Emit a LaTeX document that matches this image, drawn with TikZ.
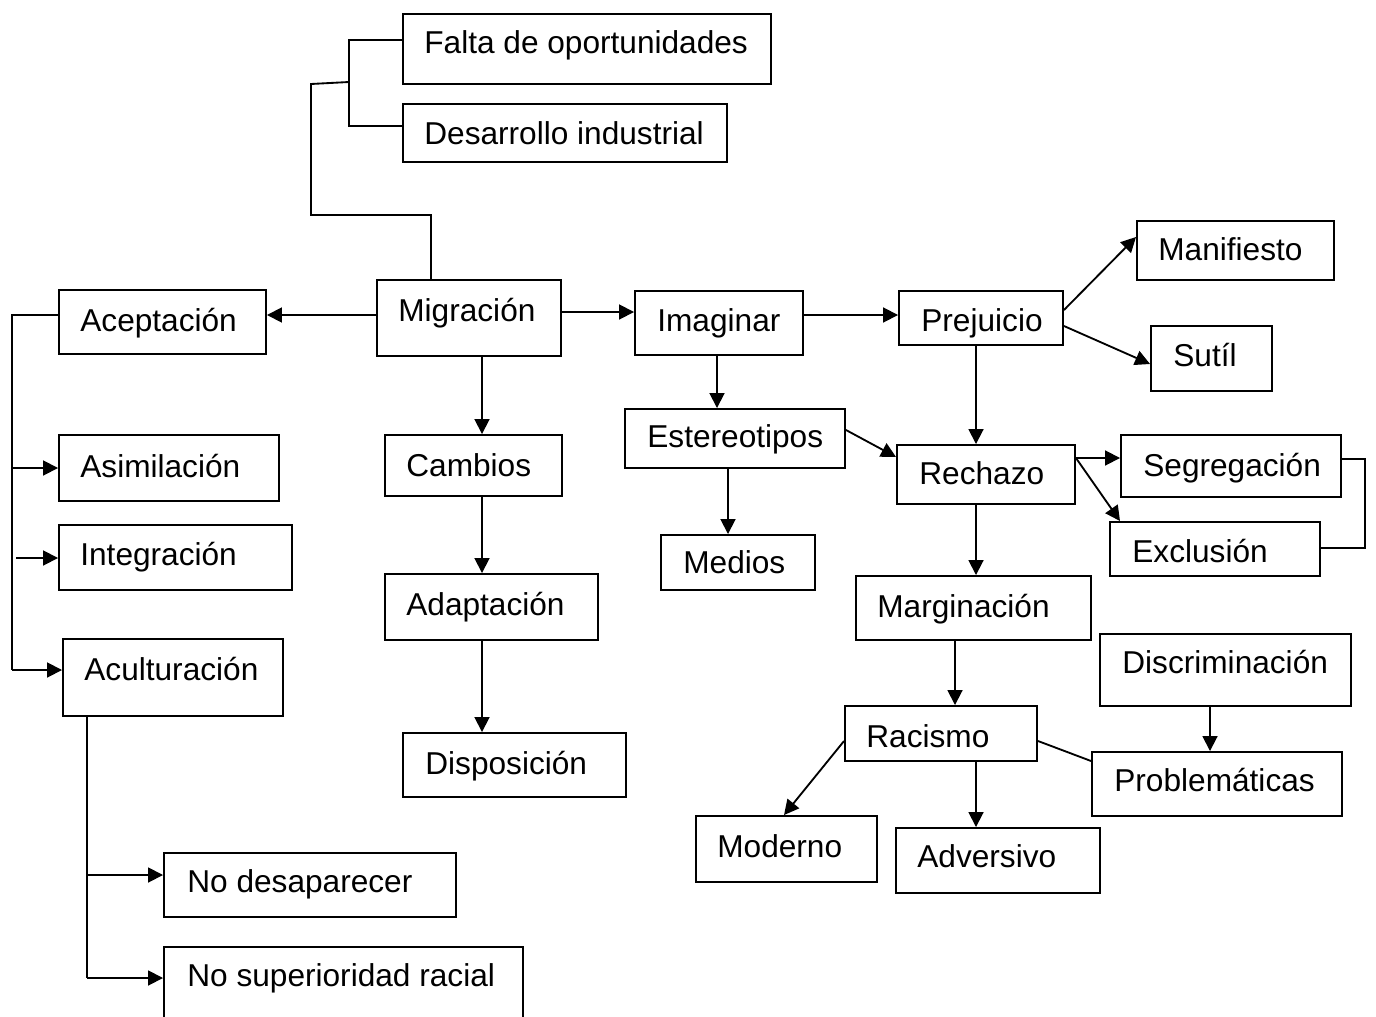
\documentclass[tikz,border=0pt]{standalone}
\usepackage{fontspec}
\setmainfont{Liberation Sans}
\usetikzlibrary{arrows.meta,fit}

% box from its two corners (pixel grid), text placed by its baseline start
\newcommand\conceptbox[8]{%
  \coordinate (#1-nw) at (#2,#3);
  \coordinate (#1-se) at (#4,#5);
  \node[cbox, fit=(#1-nw)(#1-se)] (#1) {};
  \node[ctext] (#1-t) at (#6,#7) {#8};
}

\begin{document}
\begin{tikzpicture}[x=0.02cm,y=-0.02cm,
  cbox/.style={draw, line width=1.1pt, inner sep=0pt, rectangle},
  ctext/.style={anchor=base west, inner sep=0pt, font=\fontsize{18}{21}\selectfont},
  link/.style={line width=1.05pt},
  arr/.style={link, -{Triangle[length=8.5pt,width=8.5pt]}}]

\clip (0,0) rectangle (1376,1017);
\fill[white] (0,0) rectangle (1376,1017);

% causes of migration
\conceptbox{falta}{403}{14}{771}{84}{424}{54}{Falta de oportunidades}
\conceptbox{desa}{403}{104}{727}{162}{424}{145}{Desarrollo industrial}

% central chain
\conceptbox{mig}{377}{280}{561}{356}{398}{321}{Migración}
\conceptbox{imag}{635}{291}{803}{355}{657}{331}{Imaginar}
\conceptbox{prej}{899}{291}{1063}{345}{921}{331}{Prejuicio}
\conceptbox{est}{625}{409}{845}{468}{647}{447}{Estereotipos}
\conceptbox{medios}{661}{535}{815}{590}{683}{573}{Medios}
\conceptbox{rech}{897}{445}{1075}{504}{919}{484}{Rechazo}
\conceptbox{manif}{1137}{221}{1334}{280}{1158}{260}{Manifiesto}
\conceptbox{sutil}{1151}{326}{1272}{391}{1173}{366}{Sutíl}
\conceptbox{segr}{1121}{435}{1341}{497}{1143}{476}{Segregación}
\conceptbox{excl}{1110}{522}{1320}{576}{1132}{562}{Exclusión}
\conceptbox{marg}{856}{576}{1091}{640}{877}{617}{Marginación}
\conceptbox{discr}{1100}{634}{1351}{706}{1122}{673}{Discriminación}
\conceptbox{rac}{845}{706}{1037}{761}{866}{747}{Racismo}
\conceptbox{probl}{1092}{752}{1342}{816}{1114}{791}{Problemáticas}
\conceptbox{mod}{696}{816}{877}{882}{717}{857}{Moderno}
\conceptbox{adv}{896}{828}{1100}{893}{917}{867}{Adversivo}

% middle column
\conceptbox{camb}{385}{435}{562}{496}{406}{476}{Cambios}
\conceptbox{adap}{385}{574}{598}{640}{406}{615}{Adaptación}
\conceptbox{disp}{403}{733}{626}{797}{425}{774}{Disposición}

% left column
\conceptbox{acep}{59}{290}{266}{354}{80}{331}{Aceptación}
\conceptbox{asim}{59}{435}{279}{501}{80}{477}{Asimilación}
\conceptbox{integ}{59}{525}{292}{590}{80}{565}{Integración}
\conceptbox{acul}{63}{639}{283}{716}{84}{680}{Aculturación}
\conceptbox{nodes}{164}{853}{456}{917}{187}{892}{No desaparecer}
\conceptbox{nosup}{164}{947}{523}{1040}{187}{986}{No superioridad racial}

% junction points of the elbow connectors
\coordinate (jtop) at (349,82);
\coordinate (jleft) at (12,315);
\coordinate (jacul) at (87,716);
\coordinate (jseg) at (1365,459);

% bracket from Migración up to its causes
\draw[link] (mig.north -| 431,0) -- (431,215) -- (311,215) -- (311,84) -- (jtop);
\draw[link] (falta.west |- 0,40) -- (349,40) -- (349,126) -- (desa.west |- 0,126);

% central arrows
\draw[arr] (mig.west |- 0,315) -- (acep.east |- 0,315);
\draw[arr] (mig.east |- 0,312) -- (imag.west |- 0,312);
\draw[arr] (imag.east |- 0,315) -- (prej.west |- 0,315);
\draw[arr] (imag.south -| 717,0) -- (est.north -| 717,0);
\draw[arr] (est.south -| 728,0) -- (medios.north -| 728,0);
\draw[arr] (est.east |- 0,430) -- (rech.west |- 0,457);
\draw[arr] (prej.south -| 976,0) -- (rech.north -| 976,0);
\draw[arr] (rech.south -| 976,0) -- (marg.north -| 976,0);
\draw[arr] (prej.east |- 0,310) -- (manif.west |- 0,237);
\draw[arr] (prej.east |- 0,326) -- (sutil.west |- 0,364);
\draw[arr] (rech.east |- 0,458) -- (segr.west |- 0,458);
\draw[arr] (rech.east |- 0,458) -- (excl.north -| 1120,0);
\draw[link] (segr.east |- jseg) -- (jseg) -- (1365,548) -- (excl.east |- 0,548);
\draw[arr] (marg.south -| 955,0) -- (rac.north -| 955,0);
\draw[arr] (rac.west |- 0,741) -- (mod.north -| 784,0);
\draw[arr] (rac.south -| 976,0) -- (adv.north -| 976,0);
\draw[link] (rac.east |- 0,741) -- (probl.west |- 0,761);
\draw[arr] (discr.south -| 1210,0) -- (probl.north -| 1210,0);

% middle column arrows
\draw[arr] (mig.south -| 482,0) -- (camb.north -| 482,0);
\draw[arr] (camb.south -| 482,0) -- (adap.north -| 482,0);
\draw[arr] (adap.south -| 482,0) -- (disp.north -| 482,0);

% left bracket from Aceptación
\draw[link] (acep.west |- jleft) -- (jleft) -- (12,670);
\draw[arr] (12,468) -- (asim.west |- 0,468);
\draw[arr] (16,558) -- (integ.west |- 0,558);
\draw[arr] (12,670) -- (acul.west |- 0,670);

% branches of Aculturación
\draw[link] (jacul) -- (87,978);
\draw[arr] (87,875) -- (nodes.west |- 0,875);
\draw[arr] (87,978) -- (nosup.west |- 0,978);
\end{tikzpicture}
\end{document}
